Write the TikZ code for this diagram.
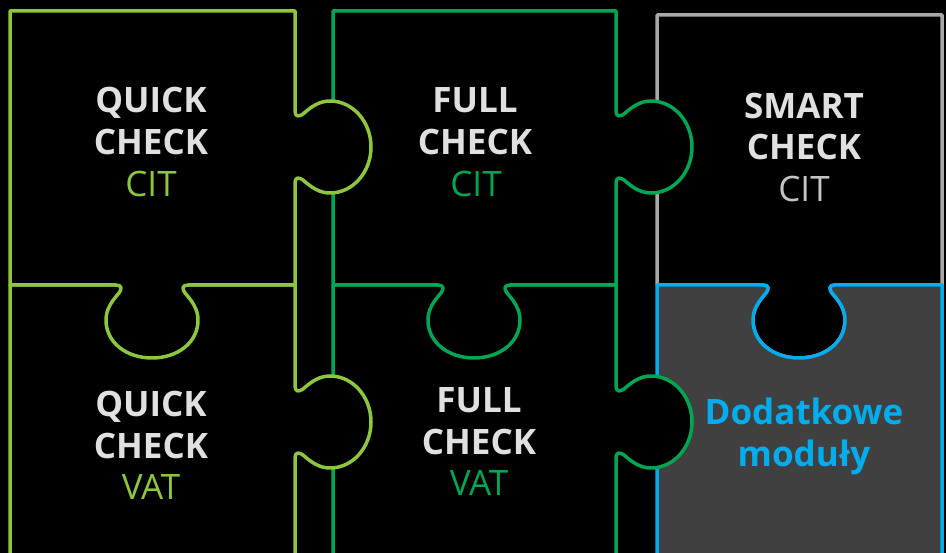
\documentclass[tikz,border=0pt]{standalone}
\usepackage{fontspec}
\setmainfont{Open Sans}
\definecolor{lgreen}{HTML}{8DC63F}
\definecolor{dgreen}{HTML}{00A651}
\definecolor{sgray}{HTML}{A8A8A8}
\definecolor{cgray}{HTML}{C4C4C4}
\definecolor{tgray}{HTML}{E0E0E0}
\definecolor{mblue}{HTML}{00AEEF}
\definecolor{mfill}{HTML}{404040}
% right-pointing knob on a vertical edge at x=#1, centred at y=#2 (top to bottom)
\newcommand{\rknob}[2]{-- (#1,#2-36) .. controls (#1,#2-30) and (#1+4,#2-30) .. (#1+8,#2-33)
 .. controls (#1+16,#2-40) and (#1+24,#2-46) .. (#1+35,#2-46)
 .. controls (#1+58,#2-46) and (#1+76,#2-25) .. (#1+76,#2)
 .. controls (#1+76,#2+25) and (#1+58,#2+46) .. (#1+35,#2+46)
 .. controls (#1+24,#2+46) and (#1+16,#2+40) .. (#1+8,#2+33)
 .. controls (#1+4,#2+30) and (#1,#2+30) .. (#1,#2+36)}
% downward knob on a horizontal edge at y=#2, centred at x=#1 (right to left)
\newcommand{\dknobRL}[2]{-- (#1+36,#2) .. controls (#1+30,#2) and (#1+30,#2+4) .. (#1+33,#2+8)
 .. controls (#1+40,#2+16) and (#1+46,#2+24) .. (#1+46,#2+35)
 .. controls (#1+46,#2+58) and (#1+25,#2+73) .. (#1,#2+73)
 .. controls (#1-25,#2+73) and (#1-46,#2+58) .. (#1-46,#2+35)
 .. controls (#1-46,#2+24) and (#1-40,#2+16) .. (#1-33,#2+8)
 .. controls (#1-30,#2+4) and (#1-30,#2) .. (#1-36,#2)}
% same, left to right
\newcommand{\dknobLR}[2]{-- (#1-36,#2) .. controls (#1-30,#2) and (#1-30,#2+4) .. (#1-33,#2+8)
 .. controls (#1-40,#2+16) and (#1-46,#2+24) .. (#1-46,#2+35)
 .. controls (#1-46,#2+58) and (#1-25,#2+73) .. (#1,#2+73)
 .. controls (#1+25,#2+73) and (#1+46,#2+58) .. (#1+46,#2+35)
 .. controls (#1+46,#2+24) and (#1+40,#2+16) .. (#1+33,#2+8)
 .. controls (#1+30,#2+4) and (#1+30,#2) .. (#1+36,#2)}
\begin{document}
\begin{tikzpicture}[x=1pt,y=-1pt,line width=3.5pt,line join=round,
  piece/.style={fill=black,draw=#1},
  title/.style={font=\fontsize{35}{42}\selectfont\bfseries,text=tgray,anchor=base,inner sep=0pt},
  sub/.style={font=\fontsize{35}{42}\selectfont,text=#1,anchor=base,inner sep=0pt}]
\useasboundingbox (0,0) rectangle (946,553);
\fill[black] (0,0) rectangle (946,553);
\clip (0,0) rectangle (946,553);
% Smart check
\path[piece=sgray] (657,15) -- (942,15) -- (942,285) \dknobRL{799}{285} -- (657,285) -- cycle;
% Additional modules
\path[fill=mfill,draw=mblue] (657,285) \dknobLR{799}{285} -- (942,285) -- (942,570) -- (657,570) -- cycle;
% Full check VAT
\path[piece=dgreen] (333,285) -- (616,285) \rknob{616}{422} -- (616,570) -- (333,570) -- cycle;
% Full check CIT
\path[piece=dgreen] (333,11) -- (616,11) \rknob{616}{147} -- (616,285) \dknobRL{474}{285} -- (333,285) -- cycle;
% Quick check VAT
\path[piece=lgreen] (10,285) -- (295,285) \rknob{295}{422} -- (295,570) -- (10,570) -- cycle;
% Quick check CIT
\path[piece=lgreen] (10,11) -- (295,11) \rknob{295}{147} -- (295,285) \dknobRL{152}{285} -- (10,285) -- cycle;
% texts
\node[title] (qca) at (151,113) {QUICK};
\node[title] (qcb) at (151,155) {CHECK};
\node[sub=lgreen] (qcc) at (151,197) {CIT};
\node[title] (fca) at (475,113) {FULL};
\node[title] (fcb) at (475,155) {CHECK};
\node[sub=dgreen] (fcc) at (476,197) {CIT};
\node[title] (sca) at (804,119) {SMART};
\node[title] (scb) at (804,160) {CHECK};
\node[sub=cgray] (scc) at (804,202) {CIT};
\node[title] (qva) at (151,417) {QUICK};
\node[title] (qvb) at (151,458) {CHECK};
\node[sub=lgreen] (qvc) at (151,500) {VAT};
\node[title] (fva) at (479,413) {FULL};
\node[title] (fvb) at (479,454) {CHECK};
\node[sub=dgreen] (fvc) at (479,496) {VAT};
\node[title,text=mblue] (dma) at (804,425) {Dodatkowe};
\node[title,text=mblue] (dmb) at (804,467) {moduły};
\end{tikzpicture}
\end{document}
